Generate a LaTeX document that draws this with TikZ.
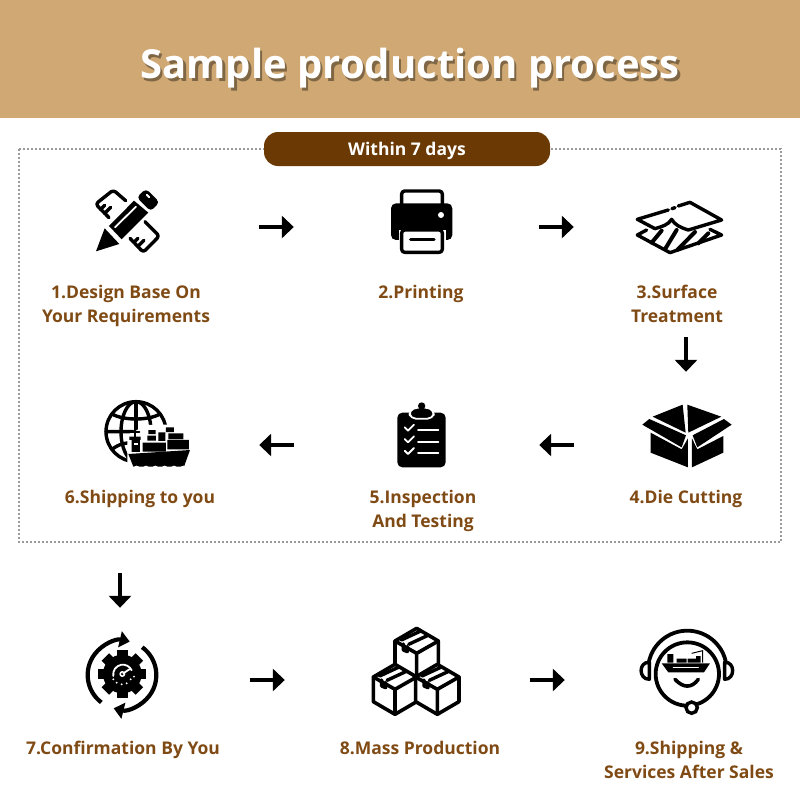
\documentclass[tikz,border=0pt]{standalone}
\usepackage{fontspec}
\setmainfont{Open Sans}
\usetikzlibrary{arrows.meta,calc}
\definecolor{bandc}{HTML}{CFA873}
\definecolor{pillc}{HTML}{6B3A04}
\definecolor{labc}{HTML}{7F4A14}
\definecolor{dotc}{HTML}{9A9A9A}
\tikzset{
  band/.style={fill=bandc,draw=none},
  ttl/.style={font=\fontsize{40}{48}\selectfont\bfseries,text=white,inner sep=0pt},
  shd/.style={font=\fontsize{40}{48}\selectfont\bfseries,text=black!70!bandc,opacity=.55,inner sep=0pt},
  pill/.style={fill=pillc,rounded corners=14pt,minimum width=286pt,minimum height=34pt,
               font=\fontsize{17.5}{22}\selectfont\bfseries,text=white,inner sep=0pt},
  frm/.style={draw=dotc,line width=2.2pt,dash pattern=on 2pt off 2pt},
  lab/.style={font=\fontsize{17.5}{24}\selectfont\bfseries,text=labc,align=center,inner sep=0pt},
  icbox/.style={minimum size=90pt,inner sep=0pt},
  ar/.style={-{Triangle[length=12pt,width=22pt]},line width=4.5pt},
  ln/.style={draw=black,line width=3.4pt,line join=round,line cap=round},
  wln/.style={draw=white,line width=1.8pt,line join=round,line cap=round},
  zm/.style={shift={(#1)},scale=.3333},
}
\begin{document}
\begin{tikzpicture}[x=1pt,y=-1pt]
  \useasboundingbox (0,0) rectangle (800,800);
  \fill[band] (0,0) rectangle (800,118);
  \node[shd] (ttls) at (412.5,71) {Sample production process};
  \node[ttl] (title) at (410,68.5) {Sample production process};
  \draw[frm] (19,149) rectangle (781,542);
  \node[pill] (within) at (407,149) {\raisebox{-6.5pt}[0pt][0pt]{Within 7 days}\hspace{14pt}};

  \node[lab] (lab1) at (126,306) {1.Design Base On\\Your Requirements};
  \node[lab] (lab2) at (421,294) {2.Printing};
  \node[lab] (lab3) at (677,304) {3.Surface\\Treatment};
  \node[lab] (lab4) at (686,499) {4.Die Cutting};
  \node[lab] (lab5) at (423,511) {5.Inspection\\And Testing};
  \node[lab] (lab6) at (140,499) {6.Shipping to you};
  \node[lab] (lab7) at (123,750) {7.Confirmation By You};
  \node[lab] (lab8) at (420,748) {8.Mass Production};
  \node[lab] (lab9) at (689,760) {9.Shipping \&\\Services After Sales};

  \node[icbox] (ic1) at (128,227) {};
  \node[icbox] (ic2) at (422,227) {};
  \node[icbox] (ic3) at (680,227) {};
  \node[icbox] (ic4) at (686,445) {};
  \node[icbox] (ic5) at (422,445) {};
  \node[icbox] (ic6) at (146,445) {};
  \node[icbox] (ic7) at (120,680) {};
  \node[icbox] (ic8) at (415,680) {};
  \node[icbox] (ic9) at (690,680) {};
  \foreach \a/\b/\s/\t in {ic1/ic2/86/83,ic2/ic3/72/61,ic4/ic5/67/72,ic5/ic6/83/68,
                           ic7/ic8/85/85,ic8/ic9/70/80}
     \draw[ar,shorten <=\s pt,shorten >=\t pt] (\a)--(\b);
  \foreach \a/\b/\s/\t in {ic3/ic4/65/28,ic6/ic7/83/27}
     \draw[ar,shorten <=\s pt,shorten >=\t pt] (\a.south -| \b)--(\b.north);

  % pencil and ruler
  \begin{scope}[zm={60,170}]
    \draw[ln,rounded corners=3pt] (197,92)--(160,60)--(107,102)--(147,143);
    \draw[ln] (122,118)--(134,106) (134,130)--(152,112);
    \draw[ln,rounded corners=3pt] (255,155)--(298,198)--(250,247)--(210,205);
    \draw[ln] (222,217)--(234,205) (234,229)--(252,211);
    \fill (147,168)--(222,92)--(265,128)--(185,208)--cycle;
    \fill[rounded corners=4pt] (230,82)--(258,56)--(299,97)--(272,124)--cycle;
    \draw[wln] (165,172)--(228,110) (260,74)--(268,82);
    \fill (108,244)--(134,175)--(178,222)--cycle;
  \end{scope}
  % printer and sheets
  \begin{scope}[zm={360,170}]
    \draw[ln,rounded corners=3pt] (125,105)--(125,63)--(247,63)--(247,105);
    \fill[rounded corners=5pt] (93,100) rectangle (277,210);
    \fill[white] (116,180) rectangle (258,215);
    \draw[ln,fill=white,rounded corners=3pt] (125,180) rectangle (247,247);
    \draw[ln] (152,208)--(222,208);
    \fill[white] (243,135) circle (9);
    \draw[ln] (925,120)--(832,148)--(885,176)
       .. controls (905,170) and (925,165) .. (935,148)
       .. controls (945,165) and (960,172) .. (985,180)--(1085,150)--(990,97)--(955,108);
    \draw[ln] (936,116)--(945,113);
    \draw[ln] (860,180)--(832,195)--(930,248)--(1085,195)--(1050,178);
    \draw[ln,line width=4pt] (875,218)--(905,182) (915,238)--(950,180) (952,240)--(1005,186)
       (1015,220)--(1045,190);
  \end{scope}
  % box and clipboard
  \begin{scope}[zm={380,390}]
    \fill (908,44)--(818,80)--(917,128)--cycle;
    \fill (922,44)--(1024,80)--(925,128)--cycle;
    \fill (787,104)--(808,87)--(918,136)--(905,172)--cycle;
    \fill (1055,104)--(1032,87)--(938,136)--(952,172)--cycle;
    \fill (812,128)--(905,178)--(924,145)--(924,232)--(812,188)--cycle;
    \fill (936,145)--(952,178)--(1030,138)--(1030,188)--(936,232)--cycle;
    \fill[rounded corners=5pt] (52,68) rectangle (197,232);
    \draw[wln,fill=black,rounded corners=5pt] (86,62)--(92,86)--(158,86)--(164,62)--(140,52)--(110,52)--cycle;
    \fill (125,48) circle (11);
    \foreach \y in {0,35,70} {
      \draw[wln] (74,112+\y)--(84,122+\y)--(102,104+\y);
      \draw[wln] (114,120+\y)--(175,120+\y);
    }
  \end{scope}
  % globe and ship
  \begin{scope}[zm={90,390}]
    \draw[ln] (138,125) circle (90);
    \draw[ln] (138,125) ellipse (45 and 90);
    \draw[ln] (138,35)--(138,140);
    \draw[ln] (66,72) .. controls (100,92) and (176,92) .. (210,72);
    \draw[ln] (66,178) .. controls (90,160) and (105,160) .. (120,158) (48,125)--(130,125);
    \fill[white] (112,135)--(170,105)--(305,102)--(305,240)--(112,240)--cycle;
    \draw[ln,line width=2pt] (135,108)--(135,140) (122,125)--(148,125);
    \fill (118,140) rectangle (152,150) (125,150) rectangle (150,186);
    \fill[white] (131,158) rectangle (145,165);
    \fill (158,158) rectangle (228,185) (232,150) rectangle (297,178)
          (172,137) rectangle (198,152) (205,127) rectangle (226,153)
          (235,130) rectangle (280,147) (175,120) rectangle (197,132)
          (228,112) rectangle (252,126);
    \fill (115,192)--(300,180)--(282,230)--(130,230)--cycle;
    \foreach \x in {140,168,196,224,252,280}
      \fill[white] (\x,236) circle (9);
  \end{scope}
  % gear with arrows
  \begin{scope}[zm={70,620}]
    \draw[line width=4.2pt,-{Triangle[length=10pt,width=16pt]}] (156,165) ++(127:103) arc[start angle=127,end angle=283,radius=103];
    \draw[line width=4.2pt,-{Triangle[length=10pt,width=16pt]}] (156,165) ++(-54:103) arc[start angle=-54,end angle=104,radius=103];
    \fill (157,162) circle (58);
    \foreach \r in {0,45,...,315}
      \fill[rotate around={\r:(157,162)}] (141,90) rectangle (173,115);
    \draw[wln] (130,168) arc[start angle=170,end angle=335,radius=29];
    \fill[white] (157,162) circle (9);
    \fill (157,162) circle (4);
    \draw[wln] (160,160)--(178,148);
    \foreach \x/\y in {130/178,140/188,155/193,170/190,182/178,192/170}
      \fill[white] (\x,\y) circle (3.2);
  \end{scope}
  % stacked cartons
  \begin{scope}[zm={360,620}]
    \foreach \cx/\cy in {170/100,105/208,232/208} {
      \draw[ln,fill=white,line width=3.6pt] (\cx,\cy-75)--(\cx+65,\cy-37)--(\cx+65,\cy+37)--(\cx,\cy+75)
        --(\cx-65,\cy+37)--(\cx-65,\cy-37)--cycle;
      \draw[ln,line width=3.6pt] (\cx-65,\cy-37)--(\cx,\cy)--(\cx+65,\cy-37) (\cx,\cy)--(\cx,\cy+75);
      \draw[ln] (\cx-46,\cy-40)--(\cx+10,\cy-66) (\cx-24,\cy-27)--(\cx+34,\cy-54);
      \draw[ln] (\cx-40,\cy-28)--(\cx-40,\cy-10)--(\cx-28,\cy-5)--(\cx-28,\cy-20);
    }
  \end{scope}
  % headset with ship
  \begin{scope}[zm={630,620}]
    \draw[line width=3.8pt] (172,150) ++(-170:118) arc[start angle=-170,end angle=-10,radius=118];
    \draw[line width=3.8pt] (172,162) circle (95);
    \draw[line width=3.4pt,fill=white] (185,263) circle (17);
    \draw[ln] (58,127) .. controls (25,125) and (25,178) .. (58,178)--cycle;
    \draw[ln] (284,127) .. controls (316,125) and (316,178) .. (284,178)--cycle;
    \fill (95,130)--(240,130)--(222,157)--(115,157)--cycle;
    \fill (112,102) rectangle (130,128) (140,116) rectangle (170,128)
          (173,116) rectangle (198,128) (198,108) rectangle (212,128);
    \draw[wln,line width=1.2pt] (130,142)--(205,142);
    \draw[line width=1pt] (185,100)--(218,92)--(218,128);
    \draw[line width=3.6pt,line cap=round] (135,178) .. controls (160,205) and (185,205) .. (205,178);
  \end{scope}
\end{tikzpicture}
\end{document}
